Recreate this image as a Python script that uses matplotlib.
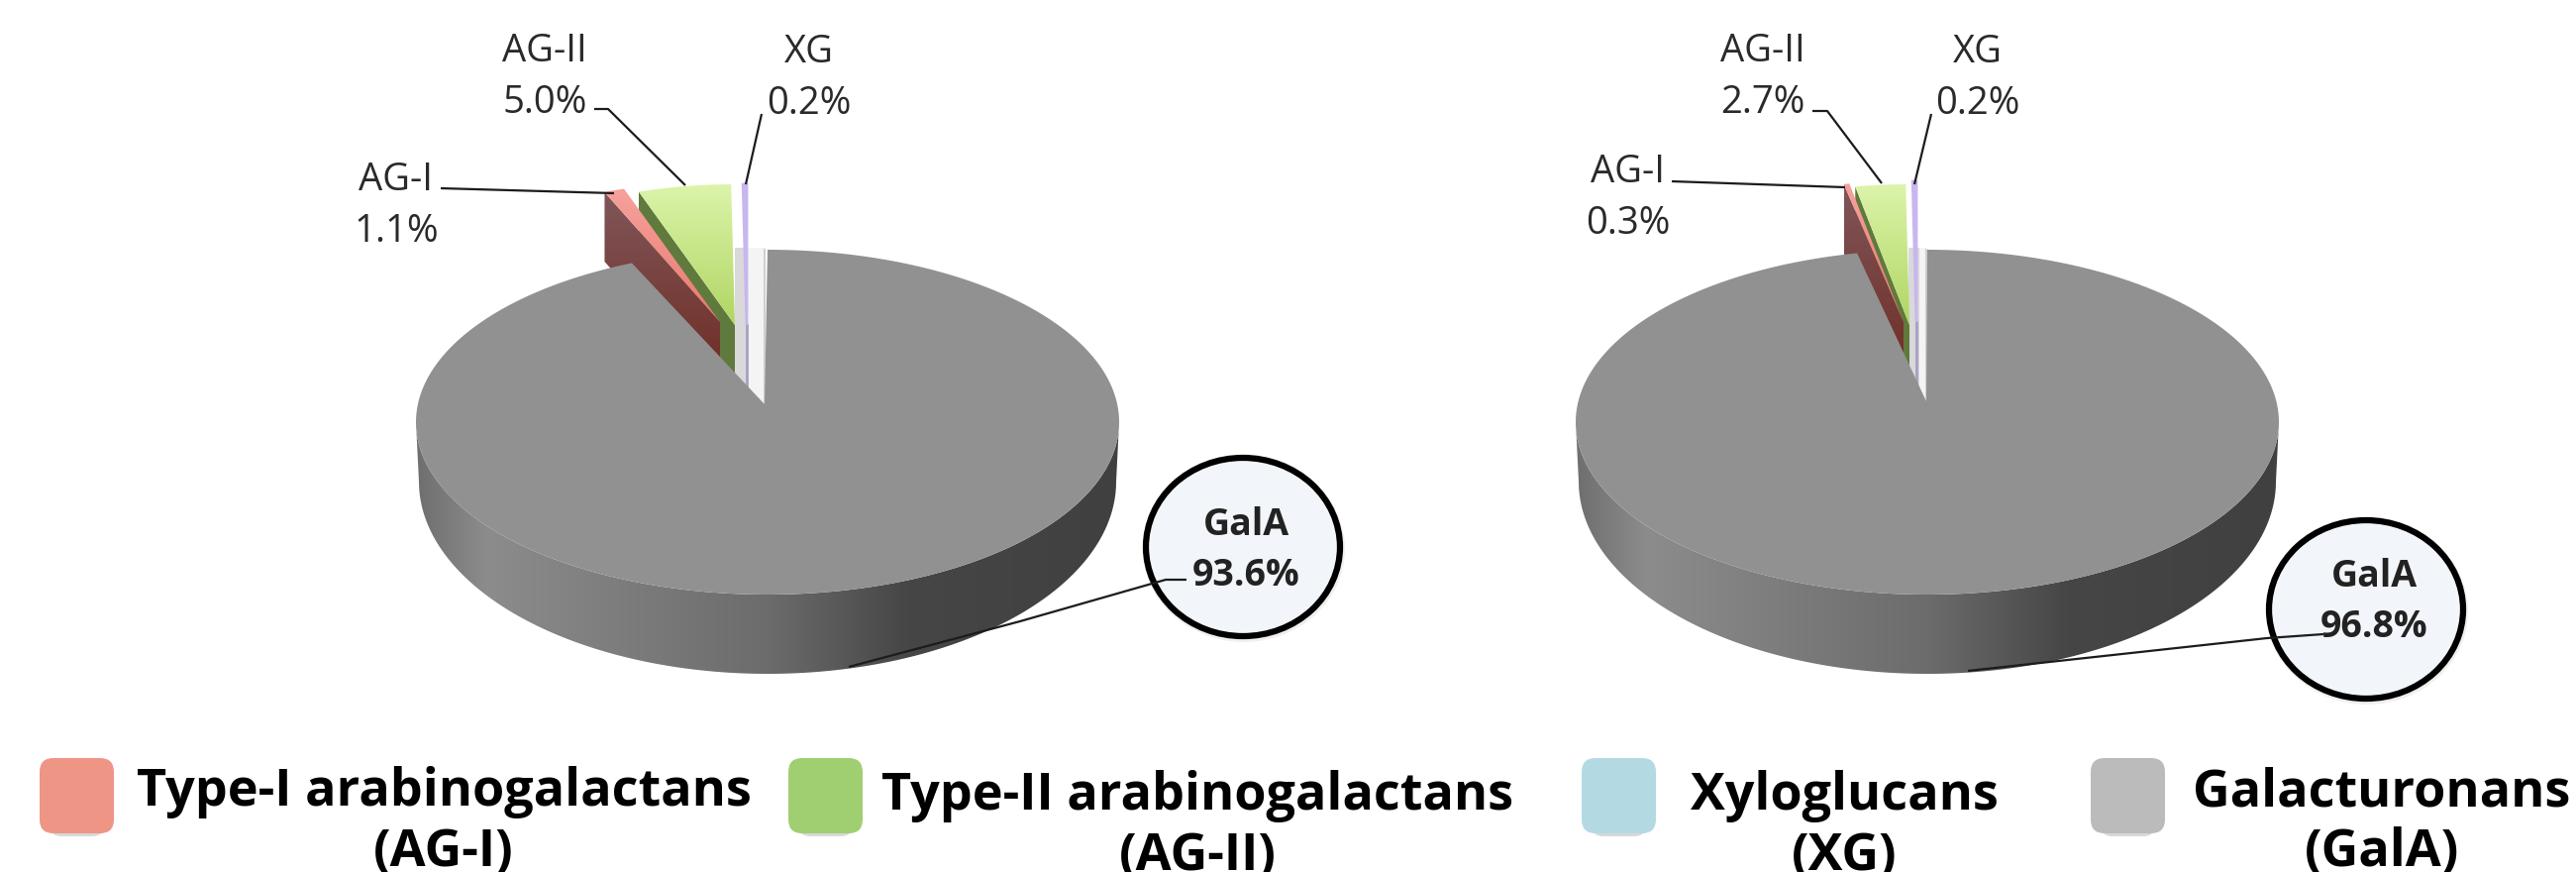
import numpy as np
import matplotlib
matplotlib.use("Agg")
import matplotlib.pyplot as plt
from matplotlib.patches import Ellipse, FancyBboxPatch, Polygon
from matplotlib.colors import LinearSegmentedColormap

# clockwise from twelve o'clock
short_names = ["GalA", "AG-I", "AG-II", "XG"]
values_left = [93.6, 1.1, 5.0, 0.2]
values_right = [96.8, 0.3, 2.7, 0.2]

legend_lines = [
    ["Type-I arabinogalactans", "(AG-I)"],
    ["Type-II arabinogalactans", "(AG-II)"],
    ["Xyloglucans", "(XG)"],
    ["Galacturonans", "(GalA)"],
]
legend_colors = ["#ee9586", "#a0cf72", "#b3dae3", "#bbbbbb"]

RX, RY = 355, 174          # top face of the big slice
RX_OUT, RY_OUT = 302, 142  # pulled-out slices sit further back, so they look smaller
DEPTH = 70

rim_stops = [(0.0, "#6f6f6f"), (0.1, "#8c8c8c"), (0.3, "#7c7c7c"), (0.5, "#6c6c6c"),
             (0.7, "#464646"), (1.0, "#404040")]
rim_cmap = LinearSegmentedColormap.from_list("rim", rim_stops)

plt.rcParams["font.family"] = ["Open Sans", "DejaVu Sans"]

fig = plt.figure(figsize=(26.01, 8.8), dpi=100)
ax = fig.add_axes([0, 0, 1, 1])


def ellipse_pts(cx, cy, rx, ry, t0, t1, n=200):
    # t is measured clockwise from the top of the ellipse
    t = np.radians(np.linspace(t0, t1, n))
    return np.column_stack([cx + rx * np.sin(t), cy - ry * np.cos(t)])


def gradient(poly, colors, horizontal=False, cmap=None, z=2):
    patch = Polygon(poly, closed=True, fc="none", ec="none", zorder=z)
    ax.add_patch(patch)
    cm = cmap or LinearSegmentedColormap.from_list("g", colors)
    xs, ys = poly[:, 0], poly[:, 1]
    grad = np.linspace(0, 1, 256)
    grad = grad[None, :] if horizontal else grad[:, None]
    im = ax.imshow(grad, cmap=cm, extent=[xs.min(), xs.max(), ys.max(), ys.min()],
                   aspect="auto", zorder=z, interpolation="bilinear")
    im.set_clip_path(patch)


def draw_pie(values, cx, cy, apex, offsets, band, labels_at, leaders, bubble, bubble_text):
    total = sum(values)
    ends = 360 * np.cumsum(values) / total
    starts = np.concatenate([[0], ends[:-1]])
    ax_, ay_ = apex

    # side wall of the disc
    front = ellipse_pts(cx, cy, RX, RY, 90, 270)
    back = ellipse_pts(cx, cy + 60, RX - 3, RY + 20, 270, 90)
    gradient(np.vstack([front, back]), None, horizontal=True, cmap=rim_cmap, z=2)

    # back wall seen through the gap
    ax.fill([band[0], band[1], band[1], band[0]], [250, 250, ay_, ay_], color="#d9d9d9", lw=0, zorder=2)
    ax.fill([band[1], band[2], band[2], band[1]], [250, 250, ay_, ay_], color="#f4f4f4", lw=0, zorder=2)
    ax.plot([band[2], band[2]], [252, ay_], color="#d0d0d0", lw=1.5, zorder=2)

    # AG-II, wall first so the AG-I top can overlap it
    sx, sy = ax_ + offsets["AG-II"][0], ay_ + offsets["AG-II"][1]
    arc = ellipse_pts(sx, sy, RX_OUT, RY_OUT, -(360 - starts[2]), -(360 - ends[2]))
    wall = np.array([arc[0], (sx, sy), (sx, sy + DEPTH), (arc[0][0], arc[0][1] + DEPTH)])
    ax.fill(wall[:, 0], wall[:, 1], color="#5f7a3c", lw=0, zorder=3)

    # AG-I
    rx0, ry0 = ax_ + offsets["AG-I"][0], ay_ + offsets["AG-I"][1]
    arc_r = ellipse_pts(rx0, ry0, RX_OUT, RY_OUT, -(360 - starts[1]), -(360 - ends[1]))
    wall_r = np.array([arc_r[0], (rx0, ry0), (rx0, ry0 + DEPTH), (arc_r[0][0], arc_r[0][1] + DEPTH)])
    gradient(wall_r, ["#80565a", "#6e2a20"], z=3)
    gradient(np.vstack([arc_r, [(rx0, ry0)]]), ["#f7a19c", "#e87970"], z=4)

    # AG-II top
    gradient(np.vstack([arc, [(sx, sy)]]), ["#dcf4aa", "#b0d562"], z=4)

    # XG is only a sliver, its wall carries on below the top face
    xx, xy = ax_ + offsets["XG"][0], ay_ + offsets["XG"][1]
    arc_x = ellipse_pts(xx, xy, RX_OUT, RY_OUT, -(360 - starts[3]), 0, n=10)
    ax.plot([xx, xx], [xy, xy + DEPTH], color="#a89fc4", lw=2, zorder=4)
    ax.fill(*np.vstack([arc_x, [(xx, xy)]]).T, color="#c8b6ee", ec="#c8b6ee", lw=2, zorder=4)

    # big slice on top of everything behind it
    top = np.vstack([ellipse_pts(cx, cy, RX, RY, starts[0], ends[0], n=400), [apex]])
    ax.add_patch(Polygon(top, closed=True, fc="#919191", ec="none", zorder=5))

    # leader lines
    for pts in leaders:
        pts = np.array(pts)
        ax.plot(pts[:, 0], pts[:, 1], color="#1c1c1c", lw=1.6, zorder=7, solid_capstyle="butt")

    # callout for the main value
    bx, by = bubble
    tx, ty = bubble_text
    ax.add_patch(Ellipse((bx + 1, by + 2), 204, 188, fc="#e2e2e2", ec="none", alpha=0.5, zorder=5.5))
    ax.add_patch(Ellipse((bx, by), 196, 180, fc="#f2f5f9", ec="black", lw=4.5, zorder=6))
    ax.text(tx, ty - 26, short_names[0], fontsize=27, ha="center", va="center", color="#222222",
            fontweight="bold", zorder=8)
    ax.text(tx, ty + 25, f"{values[0]:.1f}%", fontsize=27, ha="center", va="center", color="#222222",
            fontweight="bold", zorder=8)

    for i, name in enumerate(short_names[1:], start=1):
        x, y = labels_at[name]
        ax.text(x, y, name, fontsize=27.5, ha="center", va="center", color="#2a2a2a", zorder=8)
        ax.text(x, y + 52, f"{values[i]:.1f}%", fontsize=27.5, ha="center", va="center", color="#2a2a2a", zorder=8)


draw_pie(
    values_left, 775, 426, (772, 408),
    {"AG-I": (-45, -83), "AG-II": (-30, -80), "XG": (-18, -80)},
    (742, 755, 772),
    {"AG-I": (400, 182), "AG-II": (550, 52), "XG": (817, 53)},
    [[(445, 190), (620, 195)], [(600, 110), (614, 110), (692, 187)], [(769, 115), (753, 186)],
     [(1198, 585), (1177, 585), (1030, 627), (857, 673)]],
    (1255, 552), (1258, 556),
)
draw_pie(
    values_right, 1946, 426, (1945, 405),
    {"AG-I": (-23, -80), "AG-II": (-17, -77), "XG": (-10, -80)},
    (1927, 1938, 1945),
    {"AG-I": (1644, 174), "AG-II": (1780, 52), "XG": (1997, 53)},
    [[(1688, 183), (1863, 189)], [(1830, 112), (1845, 112), (1900, 185)], [(1950, 115), (1933, 186)],
     [(2346, 640), (2289, 644), (1987, 677)]],
    (2389, 615), (2397, 608),
)

# legend row
swatch_x = [40, 796, 1597, 2111]
text_x = [448, 1209, 1862, 2405]
text_y = [800, 804, 804, 800]
for sx, tx, ty, lines, col in zip(swatch_x, text_x, text_y, legend_lines, legend_colors):
    ax.add_patch(FancyBboxPatch((sx + 10, 778), 55, 66, boxstyle="round,pad=0,rounding_size=12",
                                fc="#d8d8d8", ec="none", zorder=2, mutation_aspect=1))
    ax.add_patch(FancyBboxPatch((sx + 10, 775), 55, 56, boxstyle="round,pad=10,rounding_size=14",
                                fc=col, ec="none", zorder=3))
    ax.text(tx, ty, lines[0], fontsize=37.5, fontweight="bold", ha="center", va="center", color="black", zorder=4)
    ax.text(tx, ty + 60, lines[1], fontsize=37.5, fontweight="bold", ha="center", va="center", color="black", zorder=4)

ax.set_xlim(0, 2601)
ax.set_ylim(880, 0)
ax.axis("off")
fig.savefig("out.png", dpi=100, facecolor="white")
